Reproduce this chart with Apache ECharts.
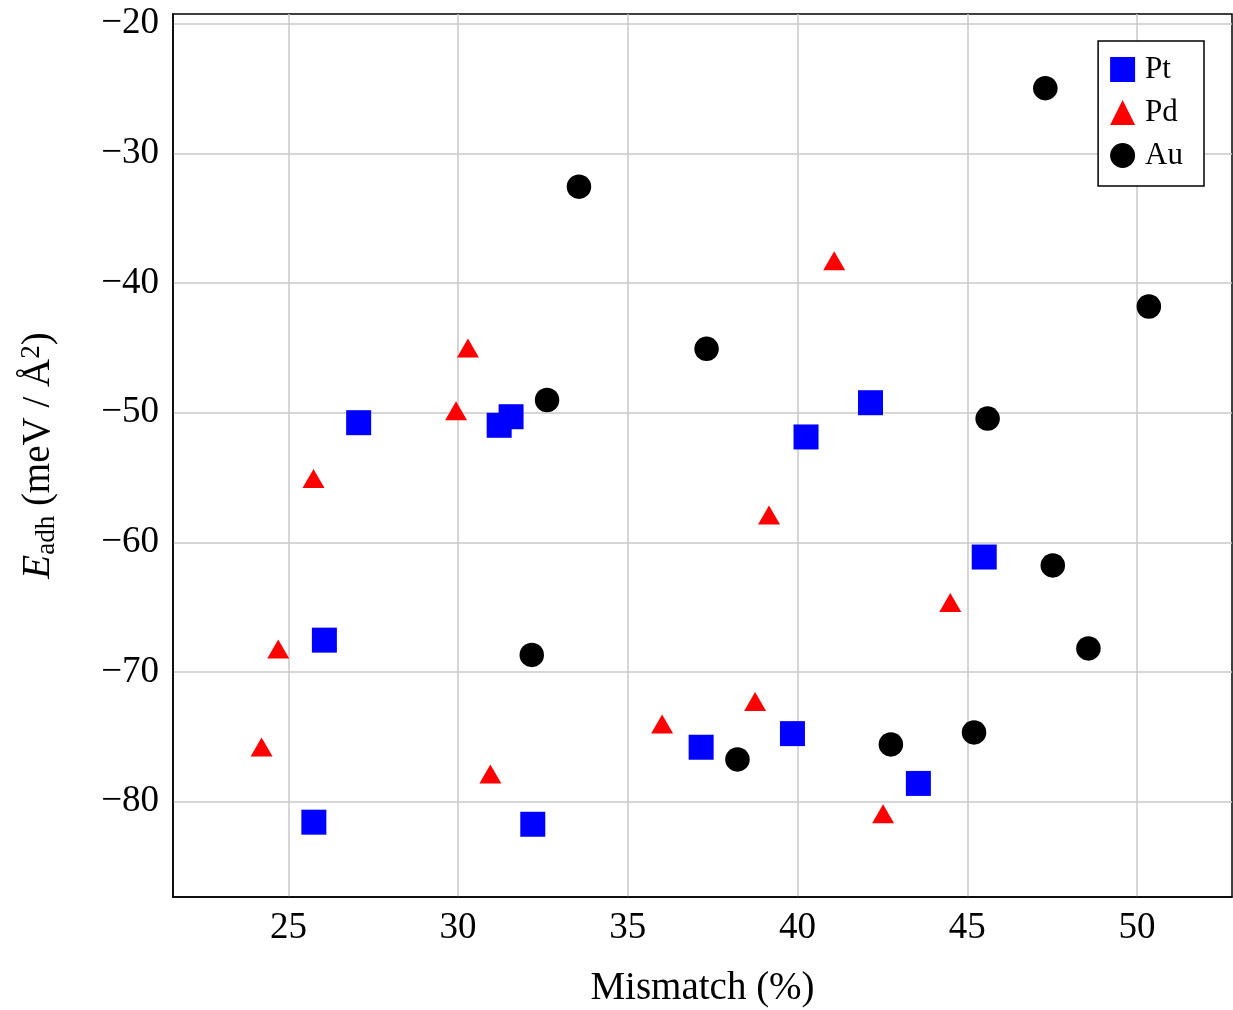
<!DOCTYPE html>
<html>
<head>
<meta charset="utf-8">
<script src="https://cdn.jsdelivr.net/npm/echarts@6/dist/echarts.min.js"></script>
<style>
  html, body { margin: 0; padding: 0; background: #fff; }
  #chart-area { width: 1233px; height: 1010px; }
</style>
</head>
<body>
<div id="chart-area"></div>
<script>
// mismatch (%) and adhesion energy (meV/Å^2) per metal
const ptMismatch = [25.75, 26.06, 27.07, 31.21, 31.56, 32.20, 37.16, 39.85, 40.25, 42.15, 43.56, 45.50];
const ptEnergy   = [-81.58, -67.54, -50.77, -50.97, -50.31, -81.74, -75.80, -74.75, -51.87, -49.23, -78.59, -61.13];

const pdMismatch = [24.21, 24.70, 25.74, 29.94, 30.29, 30.95, 36.01, 38.75, 39.16, 41.08, 42.52, 44.50];
const pdEnergy   = [-76.01, -68.45, -55.30, -50.08, -45.24, -78.09, -74.23, -72.51, -58.12, -38.51, -81.17, -64.86];

const auMismatch = [32.17, 32.62, 33.56, 37.32, 38.23, 42.75, 45.20, 45.60, 47.30, 47.52, 48.57, 50.35];
const auEnergy   = [-68.68, -49.02, -32.57, -45.07, -76.74, -75.58, -74.66, -50.45, -24.97, -61.78, -68.18, -41.81];

const seriesNames = ['Pt', 'Pd', 'Au'];

const pairs = (xs, ys) => xs.map((x, i) => [x, ys[i]]);
const font = 'Liberation Serif';
const minus = v => (v < 0 ? '\u2212' + Math.abs(v) : String(v));

let chartDom = document.getElementById('chart-area');
let myChart = echarts.init(chartDom);
let option;
option = {
	animation: false,
	backgroundColor: '#fff',
	grid: {
		left: 173,
		right: 1,
		top: 14,
		bottom: 113,
		outerBoundsMode: 'none',
		containLabel: false,
		show: true,
		borderColor: '#000',
		borderWidth: 1.5
	},
	legend: {
		orient: 'vertical',
		top: 41,
		right: 29,
		backgroundColor: '#fff',
		borderColor: '#000',
		borderWidth: 1.5,
		borderRadius: 0,
		padding: [13, 21, 15, 12],
		itemGap: 12,
		itemWidth: 25,
		itemHeight: 25,
		formatter: name => '{t|' + name + '}',
		textStyle: {
			fontFamily: font, fontSize: 31, color: '#000',
			rich: { t: { fontFamily: font, fontSize: 31, color: '#000', padding: [0, 0, 0, 5] } }
		},
		data: [
			{ name: 'Pt', icon: 'rect' },
			{ name: 'Pd', icon: 'triangle' },
			{ name: 'Au', icon: 'circle' }
		]
	},
	xAxis: {
		type: 'value',
		min: 21.6,
		max: 52.8,
		splitNumber: 6,
		name: 'Mismatch (%)',
		nameLocation: 'middle',
		nameGap: 72,
		nameTextStyle: { fontFamily: font, fontSize: 39, color: '#000' },
		axisLine: { show: true, lineStyle: { color: '#000', width: 1.5 } },
		axisTick: { show: false },
		axisLabel: {
			fontFamily: font, fontSize: 37, color: '#000', margin: 13,
			showMinLabel: false, showMaxLabel: false,
			formatter: v => (Math.abs(v % 5) < 1e-6 ? minus(v) : '')
		},
		splitLine: { show: true, showMinLine: false, showMaxLine: false, lineStyle: { color: '#c8c8c8', width: 1.5 } }
	},
	yAxis: {
		type: 'value',
		min: -87.35,
		max: -19.25,
		splitNumber: 7,
		name: '{i|E}{sub|adh} (meV / Å{sup|2})',
		nameLocation: 'middle',
		nameGap: 113,
		nameRotate: 90,
		nameTextStyle: {
			fontFamily: font, fontSize: 39, color: '#000',
			rich: {
				i: { fontFamily: font, fontSize: 39, fontStyle: 'italic', color: '#000' },
				sub: { fontFamily: font, fontSize: 27, color: '#000', verticalAlign: 'bottom', padding: [15, 0, 0, 0] },
				sup: { fontFamily: font, fontSize: 27, color: '#000', verticalAlign: 'top', padding: [0, 0, 15, 0] }
			}
		},
		axisLine: { show: true, lineStyle: { color: '#000', width: 1.5 } },
		axisTick: { show: false },
		axisLabel: {
			fontFamily: font, fontSize: 37, color: '#000', margin: 14,
			showMinLabel: false, showMaxLabel: false,
			formatter: v => (Math.abs(v % 10) < 1e-6 ? minus(v) : '')
		},
		splitLine: { show: true, showMinLine: false, showMaxLine: false, lineStyle: { color: '#c8c8c8', width: 1.5 } }
	},
	series: [
		{
			name: seriesNames[0],
			type: 'scatter',
			symbol: 'rect',
			symbolSize: 25,
			itemStyle: { color: '#0000ff', opacity: 1 },
			data: pairs(ptMismatch, ptEnergy)
		},
		{
			name: seriesNames[1],
			type: 'scatter',
			symbol: 'triangle',
			symbolSize: [22, 19],
			symbolOffset: [0, -3],
			itemStyle: { color: '#ff0000', opacity: 1 },
			data: pairs(pdMismatch, pdEnergy)
		},
		{
			name: seriesNames[2],
			type: 'scatter',
			symbol: 'circle',
			symbolSize: 24.5,
			itemStyle: { color: '#000000', opacity: 1 },
			data: pairs(auMismatch, auEnergy)
		}
	]
};

option && myChart.setOption(option);
</script>
</body>
</html>
